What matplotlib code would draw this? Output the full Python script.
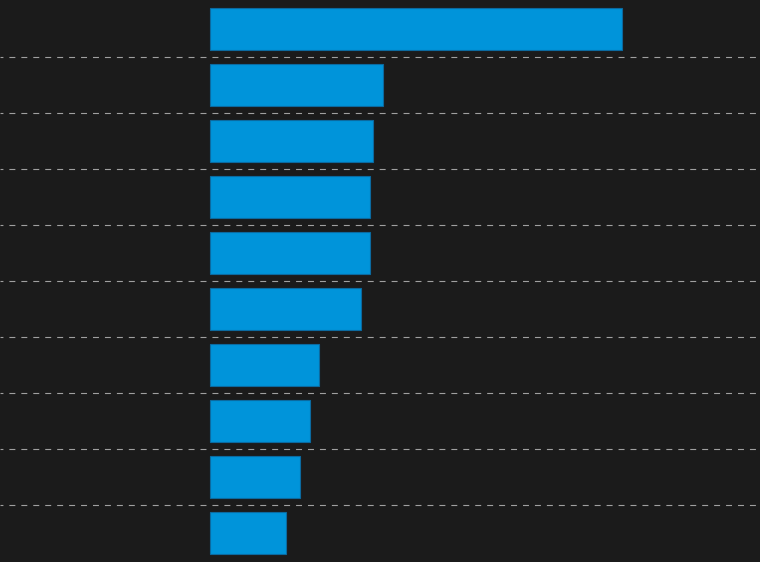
import matplotlib
matplotlib.use("Agg")
import matplotlib.pyplot as plt
import numpy as np

# bar lengths, top to bottom
values = [41.2, 17.3, 16.3, 16.0, 16.0, 15.1, 10.9, 10.0, 9.0, 7.6]

bg = "#1b1b1b"
bar_color = "#0094da"

plt.rcParams["lines.scale_dashes"] = False

fig = plt.figure(figsize=(7.6, 5.62), dpi=100, facecolor=bg)
ax = fig.add_axes([0, 0, 1, 1], facecolor=bg)

pos = np.arange(len(values))
ax.barh(pos, values, height=0.75, color=bar_color, edgecolor="#0b6aa0", linewidth=0.8, zorder=3)

ax.set_xlim(-21, 55)
ax.set_ylim(len(values) - 1 + 29 / 56, -29 / 56)

# dashed separators between rows
ax.set_yticks(pos[:-1] + 0.5, minor=True)
ax.grid(True, which="minor", axis="y", color="#a0a0a0", linestyle=(2.2, (4.3, 4.3)), linewidth=0.8)
ax.set_yticks([])
ax.set_xticks([])
ax.tick_params(which="both", length=0)
for s in ax.spines.values():
    s.set_visible(False)

fig.savefig("out.png", dpi=100, facecolor=bg)
